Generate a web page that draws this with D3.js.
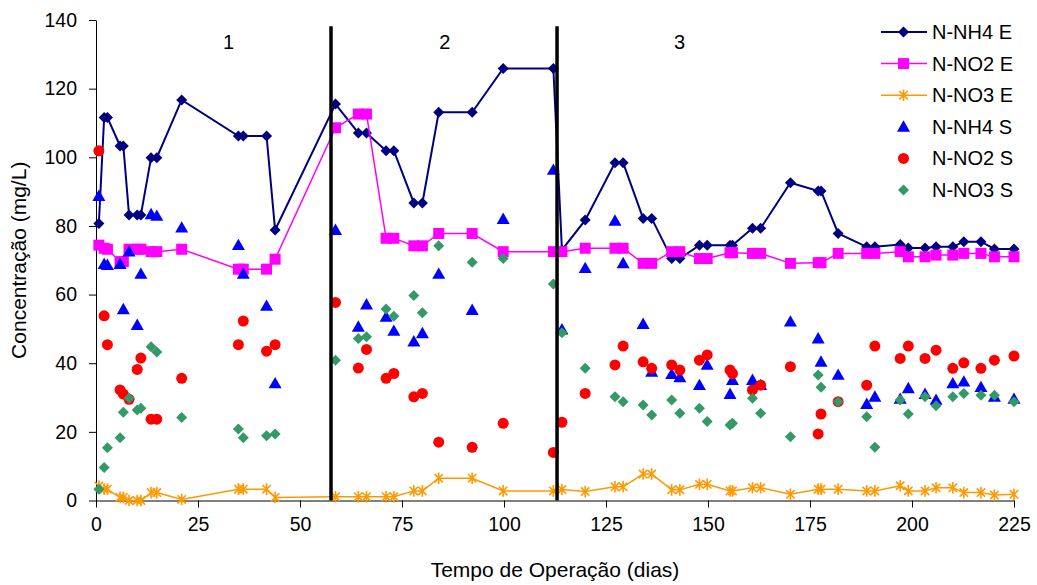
<!DOCTYPE html>
<html>
<head>
<meta charset="utf-8">
<script src="https://cdn.jsdelivr.net/npm/d3@7"></script>
<style>
  body { margin: 0; background: #fff; }
  text { font-family: "Liberation Sans", Arial, sans-serif; fill: #000; }
</style>
</head>
<body>
<div id="chart"></div>
<script>
// sampling days (shared by all series)
const days = [0.7, 2, 2.8, 5.9, 6.7, 8.1, 10.1, 11, 13.5, 14.9, 21, 34.9, 36.1, 41.8, 43.9,
  58.7, 64.3, 66.3, 71.1, 73, 77.9, 80, 84, 92.2, 99.8, 112.1,
  114.2, 119.9, 127.2, 129.2, 134.1, 136.2, 141.1, 143.1, 147.9, 149.8, 155.4, 156, 160.9, 162.9,
  170.2, 177, 177.7, 181.9, 188.9, 190.9, 197.1, 199.1, 203.2, 205.9, 210, 212.7, 216.9, 220.2, 225];

// influent (E)
const nh4E = [80.7, 111.6, 111.6, 103.3, 103.3, 83.2, 83.2, 83.2, 99.9, 99.9, 116.7, 106.2, 106.2, 106.2, 78.8,
  115.5, 107.1, 107.1, 101.9, 101.9, 86.7, 86.7, 113.1, 113.1, 125.9, 125.9,
  73, 81.7, 98.4, 98.4, 82.2, 82.2, 70.5, 70.5, 74.4, 74.4, 74.4, 74.4, 79.3, 79.3,
  92.6, 90.2, 90.2, 77.8, 73.9, 73.9, 74.6, 73.6, 73.6, 73.9, 73.9, 75.4, 75.4, 73.3, 73.3];
const no2E = [74.4, 73.5, 73.2, 69.6, 69.6, 73.2, 73.2, 73.2, 72.5, 72.5, 73.2, 67.4, 67.4, 67.4, 70.3,
  108.6, 112.6, 112.6, 76.4, 76.4, 74.2, 74.2, 77.8, 77.8, 72.5, 72.5,
  72.5, 73.5, 73.5, 73.5, 69.1, 69.1, 72.5, 72.5, 70.5, 70.5, 72.2, 72.2, 72, 72,
  69.1, 69.3, 69.3, 72, 72, 72, 72.5, 71, 71, 71.5, 71.5, 72, 72, 71, 71];
const no3E = [4.2, 3.3, 3.3, 0.9, 0.9, 0, 0, 0, 2.3, 2.3, 0.3, 3.3, 3.3, 3.3, 0.9,
  1.1, 1.1, 1.1, 1.1, 1.1, 2.8, 2.8, 6.5, 6.5, 2.8, 2.8,
  3.2, 2.6, 4, 4, 7.7, 7.7, 3.1, 3.1, 4.7, 4.7, 2.8, 2.8, 3.7, 3.7,
  1.8, 3.3, 3.3, 3.3, 2.8, 2.8, 4.3, 2.8, 2.8, 3.7, 3.7, 2.3, 2.3, 1.6, 1.8];

// effluent (S)
const nh4S = [88.7, 68.9, 68.6, 68.9, 55.7, 72.5, 51.1, 66, 83.4, 82.9, 79.5, 74.4, 66, 56.7, 34.1,
  78.8, 50.6, 57.1, 53.5, 49.4, 46.3, 48.7, 66, 55.5, 82, 96.3,
  49.8, 67.7, 81.5, 69.1, 51.4, 37.5, 36.8, 35.9, 33.6, 39.5, 31, 35.1, 35.1, 33.6,
  52.1, 47.2, 40.4, 36.6, 28.1, 30.2, 29.6, 32.7, 31, 29.3, 34.1, 34.6, 33, 30.2, 29.6];
const no2S = [101.9, 53.8, 45.4, 32.2, 31, 29.5, 38.2, 41.5, 23.7, 23.7, 35.6, 45.4, 52.3, 43.5, 45.4,
  57.7, 38.6, 44, 35.6, 37, 30.2, 31.2, 17, 15.5, 22.5, 14,
  22.8, 31.2, 39.5, 45, 40.4, 38.5, 39.5, 38, 40.9, 42.4, 38, 37, 32.2, 33.6,
  39, 19.4, 25.2, 28.8, 33.6, 45, 41.4, 45, 41.4, 43.8, 38.5, 40.1, 38.5, 40.9, 42.1];
const no3S = [3.3, 9.6, 15.4, 18.3, 25.7, 29.8, 26.4, 26.9, 44.8, 43.3, 24.2, 20.8, 18.3, 18.9, 19.4,
  40.9, 47.2, 47.7, 55.8, 53.7, 59.7, 54.7, 74.2, 69.4, 70.5, 63.1,
  48.9, 38.5, 30.2, 28.8, 27.8, 24.9, 29.3, 25.4, 26.9, 23, 22, 22.5, 29.8, 25.4,
  18.6, 36.6, 33, 28.8, 24.4, 15.5, 29.3, 25.2, 30.2, 27.6, 30.2, 31.2, 30.7, 30.7, 28.8];

const xTicks = [0, 25, 50, 75, 100, 125, 150, 175, 200, 225];
const yTicks = [0, 20, 40, 60, 80, 100, 120, 140];

// phase separators and labels (day positions)
const phaseBreaks = [57.6, 113];
const phaseNames = ["1", "2", "3"];
const phaseCenters = [32.5, 85.5, 143];

const width = 1037, height = 585;
const margin = { left: 96, right: 23, top: 20, bottom: 84.5 };

const svg = d3.select("#chart").append("svg")
  .attr("width", width)
  .attr("height", height);

const x = d3.scaleLinear().domain([0, 225]).range([margin.left, width - margin.right]);
const y = d3.scaleLinear().domain([0, 140]).range([height - margin.bottom, margin.top]);

// axes
const xAxis = svg.append("g")
  .attr("transform", `translate(0,${y(0)})`)
  .call(d3.axisBottom(x).tickValues(xTicks).tickSize(7).tickSizeOuter(0).tickPadding(10));
const yAxis = svg.append("g")
  .attr("transform", `translate(${x(0)},0)`)
  .call(d3.axisLeft(y).tickValues(yTicks).tickSize(7).tickSizeOuter(0).tickPadding(12));
[xAxis, yAxis].forEach(g => {
  g.selectAll("path, line").attr("stroke", "#000").attr("stroke-width", 1);
  g.selectAll("text").style("font-size", "19.5px").attr("fill", "#000");
});

svg.append("text")
  .attr("x", (x(0) + x(225)) / 2)
  .attr("y", 577)
  .attr("text-anchor", "middle")
  .style("font-size", "21px")
  .text("Tempo de Operação (dias)");

svg.append("text")
  .attr("transform", `translate(26,${(y(0) + y(140)) / 2}) rotate(-90)`)
  .attr("text-anchor", "middle")
  .style("font-size", "21px")
  .text("Concentração (mg/L)");

// marker shapes
const diamond = s => `M0,${-s}L${s},0L0,${s}L${-s},0Z`;
const starX = s => {
  const d = s * 0.72;
  return `M0,${-s}V${s}M${-d},${-d}L${d},${d}M${-d},${d}L${d},${-d}`;
};

const series = [
  { name: "N-NH4 E", values: nh4E, color: "#000080", line: 2, marker: "diamond", size: 5.5 },
  { name: "N-NO2 E", values: no2E, color: "#ff00ff", line: 1.5, marker: "square", size: 5.5 },
  { name: "N-NO3 E", values: no3E, color: "#ff9900", line: 1.5, marker: "star", size: 5.8 },
  { name: "N-NH4 S", values: nh4S, color: "#0000ff", line: 0, marker: "triangle", size: 6.5 },
  { name: "N-NO2 S", values: no2S, color: "#ff0000", line: 0, marker: "circle", size: 5.5 },
  { name: "N-NO3 S", values: no3S, color: "#339966", line: 0, marker: "diamond", size: 5.5 }
];

function drawMarker(g, s) {
  if (s.marker === "circle") {
    g.append("circle").attr("r", s.size).attr("fill", s.color);
  } else if (s.marker === "square") {
    g.append("rect").attr("x", -s.size).attr("y", -s.size)
      .attr("width", 2 * s.size).attr("height", 2 * s.size).attr("fill", s.color);
  } else if (s.marker === "diamond") {
    g.append("path").attr("d", diamond(s.size)).attr("fill", s.color);
  } else if (s.marker === "triangle") {
    const r = s.size;
    g.append("path").attr("d", `M0,${-r}L${r},${r * 0.75}L${-r},${r * 0.75}Z`).attr("fill", s.color);
  } else if (s.marker === "star") {
    g.append("path").attr("d", starX(s.size)).attr("stroke", s.color)
      .attr("stroke-width", 1.6).attr("fill", "none");
  }
}

const line = d3.line().x(d => x(d[0])).y(d => y(d[1]));

series.forEach(s => {
  const pts = days.map((d, i) => [d, s.values[i]]).filter(p => p[1] != null);
  const g = svg.append("g");
  if (s.line) {
    g.append("path")
      .attr("d", line(pts))
      .attr("fill", "none")
      .attr("stroke", s.color)
      .attr("stroke-width", s.line);
  }
  pts.forEach(p => {
    const m = g.append("g").attr("transform", `translate(${x(p[0])},${y(p[1])})`);
    drawMarker(m, s);
  });
});

// phase separators
svg.append("g").selectAll("line")
  .data(phaseBreaks)
  .join("line")
  .attr("x1", d => x(d)).attr("x2", d => x(d))
  .attr("y1", y(138.2)).attr("y2", y(0))
  .attr("stroke", "#000")
  .attr("stroke-width", 3.5);

svg.append("g").selectAll("text")
  .data(phaseNames)
  .join("text")
  .attr("x", (d, i) => x(phaseCenters[i]))
  .attr("y", 49)
  .attr("text-anchor", "middle")
  .style("font-size", "20px")
  .text(d => d);

// legend
const legend = svg.append("g").attr("transform", "translate(881,32)");
series.forEach((s, i) => {
  const row = legend.append("g").attr("transform", `translate(0,${i * 31.6})`);
  if (s.line) {
    row.append("line").attr("x1", 0).attr("x2", 46)
      .attr("stroke", s.color).attr("stroke-width", s.line);
  }
  const m = row.append("g").attr("transform", "translate(22.5,0)");
  drawMarker(m, s);
  row.append("text")
    .attr("x", 51)
    .attr("y", 0)
    .attr("dy", "0.35em")
    .style("font-size", "20px")
    .text(s.name);
});
</script>
</body>
</html>
